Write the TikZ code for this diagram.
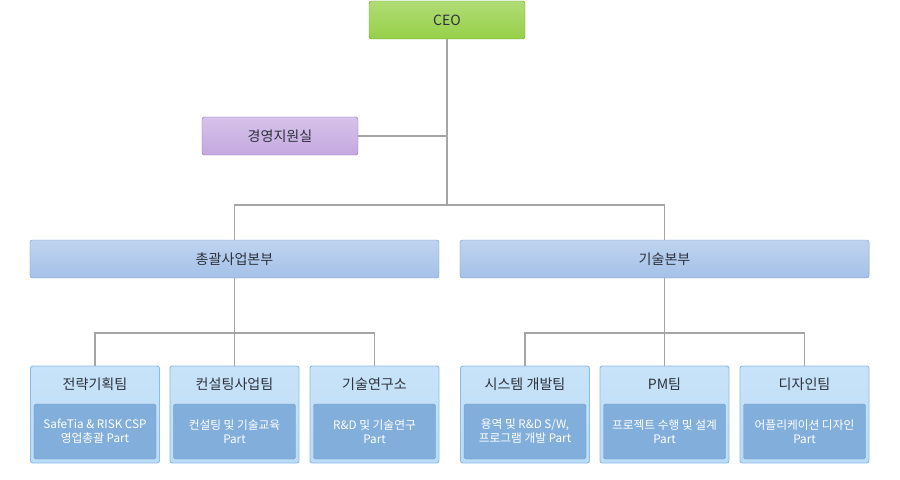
\documentclass[tikz,border=0pt]{standalone}
\usepackage{fontspec}
\setmainfont{Noto Sans CJK KR}
\usetikzlibrary{positioning}
\definecolor{ceogreen}{RGB}{150,208,72}
\definecolor{ceoline}{RGB}{110,168,58}
\definecolor{suppurple}{RGB}{196,168,224}
\definecolor{supline}{RGB}{150,118,190}
\definecolor{divblue}{RGB}{164,193,232}
\definecolor{divline}{RGB}{122,156,204}
\definecolor{teamblue}{RGB}{186,220,247}
\definecolor{teamline}{RGB}{140,187,230}
\definecolor{partblue}{RGB}{130,174,220}
\definecolor{connline}{RGB}{165,165,165}
\definecolor{darktext}{RGB}{45,50,60}

\begin{document}
\begin{tikzpicture}[x=0.03cm,y=-0.03cm,
      conn/.style={draw=connline,line width=1.2pt},
      bceo/.style={draw=ceoline,rounded corners=2pt,minimum width=4.68cm,minimum height=1.14cm,
                   top color=ceogreen!75!white,bottom color=ceogreen,font=\large,text=darktext},
      bsup/.style={draw=supline,rounded corners=2pt,minimum width=4.68cm,minimum height=1.14cm,
                   top color=suppurple!70!white,bottom color=suppurple,font=\large,text=darktext},
      bdiv/.style={draw=divline,rounded corners=2pt,minimum width=12.27cm,minimum height=1.14cm,
                   top color=divblue!70!white,bottom color=divblue,font=\large,text=darktext},
      bteam/.style={draw=teamline,rounded corners=2pt,minimum width=3.87cm,minimum height=2.91cm,
                    top color=teamblue!80!white,bottom color=teamblue,line width=0.8pt},
      tname/.style={font=\large,text=darktext},
      tpart/.style={draw=partblue!90!black,rounded corners=1.5pt,minimum width=3.66cm,minimum height=1.65cm,
                    fill=partblue,align=center,font=\normalsize,text=white}
    ]
    \useasboundingbox (0,0) rectangle (900,480);

    \node[bceo] (ceo) at (447,20) {CEO};
    \node[bsup] (sup) at (280,136) {경영지원실};
    \node[bdiv] (div1) at (234.5,259) {총괄사업본부};
    \node[bdiv] (div2) at (664.5,259) {기술본부};

    % teams
    \foreach \n/\x/\title/\part in {
        1/95/전략기획팀/{SafeTia \& RISK CSP\\영업총괄 Part},
        2/234.5/컨설팅사업팀/{컨설팅 및 기술교육\\Part},
        3/374.5/기술연구소/{R\&D 및 기술연구\\Part},
        4/525/시스템 개발팀/{용역 및 R\&D S/W,\\프로그램 개발 Part},
        5/664.5/PM팀/{프로젝트 수행 및 설계\\Part},
        6/804.5/디자인팀/{어플리케이션 디자인\\Part}} {
      \node[bteam] (t\n) at (\x,414.5) {};
      \node[tname] (tn\n) at (\x,384) {\title};
      \node[tpart] (tp\n) at (\x,431.5) {\part};
    }

    \coordinate (split) at (447,205);
    \coordinate (bar1) at (234.5,333);
    \coordinate (bar2) at (664.5,333);

    \draw[conn] (ceo.south) -- (split);
    \draw[conn] (sup.east) -- (sup -| ceo);
    \draw[conn] (div1.north) |- (split) -| (div2.north);
    \draw[conn] (div1.south) -- (t2.north);
    \draw[conn] (t1.north) |- (bar1) -| (t3.north);
    \draw[conn] (div2.south) -- (t5.north);
    \draw[conn] (t4.north) |- (bar2) -| (t6.north);
  \end{tikzpicture}
\end{document}
